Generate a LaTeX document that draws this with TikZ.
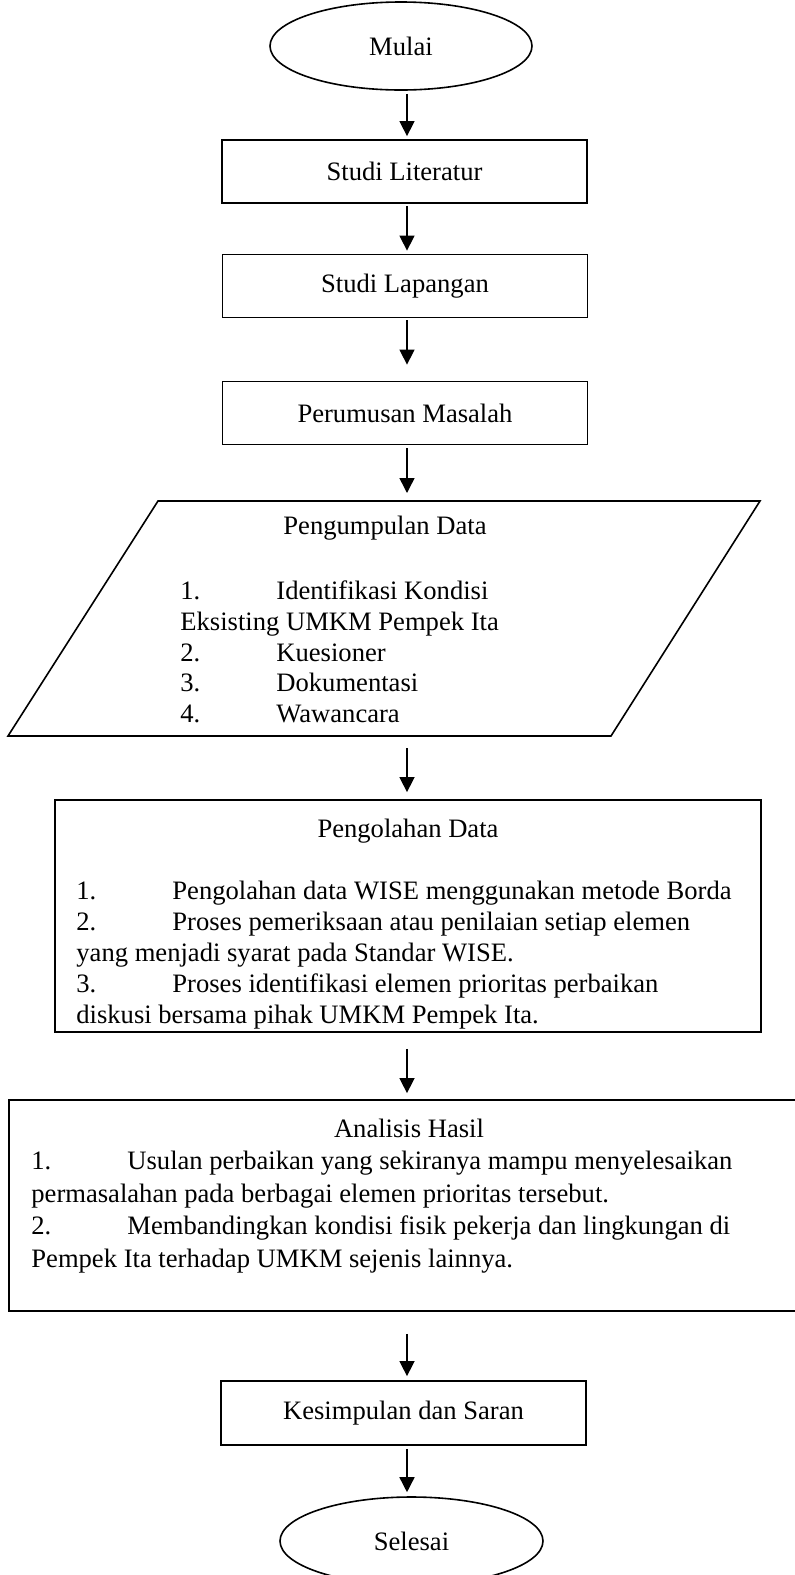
\documentclass[tikz,border=0pt]{standalone}
\usepackage{fontspec}
\setmainfont{Liberation Serif}
\usetikzlibrary{shapes.geometric,arrows.meta}
\newcommand{\flownum}[1]{\makebox[48pt][l]{#1}}
\begin{document}
\begin{tikzpicture}[x=0.5pt,y=-0.5pt,
  every node/.style={font=\fontsize{13.3}{15.5}\selectfont, inner sep=0pt},
  procbox/.style={draw, line width=0.9pt, rectangle, minimum width=182.5pt, minimum height=31.5pt},
  termshape/.style={draw, line width=0.8pt, ellipse, minimum width=131pt, minimum height=44pt},
  flowarrow/.style={line width=0.75pt, -{Triangle[width=7.5pt,length=7.5pt]}},
  txtline/.style={anchor=base west},
  titletext/.style={anchor=base}
]
\useasboundingbox (0,0) rectangle (795,1575);
\coordinate (axis) at (407,0);

% terminals and boxes
\node[termshape] (mulai) at (401,46) {Mulai};
\node[procbox] (lit) at (404.5,171.5) {Studi Literatur};
\node[procbox] (lap) at (405,286) {Studi Lapangan};
\node[procbox] (rum) at (405,413) {Perumusan Masalah};

% parallelogram
\coordinate (pga) at (158,501);
\coordinate (pgb) at (760,501);
\coordinate (pgc) at (611,736);
\coordinate (pgd) at (8,736);
\draw[line width=0.8pt] (pga) -- (pgb) -- (pgc) -- (pgd) -- cycle;
\coordinate (pgtop) at (407,501);
\coordinate (pgbot) at (407,736);
\node[titletext] (pgt) at (385,534) {Pengumpulan Data};
\node[txtline] (pgl1) at (180,599) {\flownum{1.}Identifikasi Kondisi};
\node[txtline] (pgl2) at (180,630) {Eksisting UMKM Pempek Ita};
\node[txtline] (pgl3) at (180,661) {\flownum{2.}Kuesioner};
\node[txtline] (pgl4) at (180,691) {\flownum{3.}Dokumentasi};
\node[txtline] (pgl5) at (180,722) {\flownum{4.}Wawancara};

% Pengolahan Data
\node[draw, line width=0.9pt, rectangle, minimum width=353pt, minimum height=116pt] (olah) at (408,916) {};
\node[titletext] (olt) at (408,837) {Pengolahan Data};
\node[txtline] (oll1) at (76,899) {\flownum{1.}Pengolahan data WISE menggunakan metode Borda};
\node[txtline] (oll2) at (76,930) {\flownum{2.}Proses pemeriksaan atau penilaian setiap elemen};
\node[txtline] (oll3) at (76,961) {yang menjadi syarat pada Standar WISE.};
\node[txtline] (oll4) at (76,992) {\flownum{3.}Proses identifikasi elemen prioritas perbaikan};
\node[txtline] (oll5) at (76,1023) {diskusi bersama pihak UMKM Pempek Ita.};

% Analisis Hasil
\node[draw, line width=0.9pt, rectangle, minimum width=398pt, minimum height=105.5pt] (anl) at (407,1205.5) {};
\node[titletext] (ant) at (409,1137) {Analisis Hasil};
\node[txtline] (anl1) at (31,1169.5) {\flownum{1.}Usulan perbaikan yang sekiranya mampu menyelesaikan};
\node[txtline] (anl2) at (31,1202) {permasalahan pada berbagai elemen prioritas tersebut.};
\node[txtline] (anl3) at (31,1234.5) {\flownum{2.}Membandingkan kondisi fisik pekerja dan lingkungan di};
\node[txtline] (anl4) at (31,1267) {Pempek Ita terhadap UMKM sejenis lainnya.};

\node[procbox, minimum height=32pt] (kes) at (403.5,1413) {Kesimpulan dan Saran};
\node[termshape, minimum width=131.5pt] (sel) at (411.5,1541) {Selesai};

% connectors
\draw[flowarrow, shorten <=1.5pt, shorten >=1.5pt] (mulai.south -| axis) -- (lit.north -| axis);
\draw[flowarrow, shorten <=1pt, shorten >=1.5pt] (lit.south -| axis) -- (lap.north -| axis);
\draw[flowarrow, shorten <=1pt, shorten >=8pt] (lap.south -| axis) -- (rum.north -| axis);
\draw[flowarrow, shorten <=1.5pt, shorten >=4pt] (rum.south -| axis) -- (pgtop);
\draw[flowarrow, shorten <=6pt, shorten >=3.5pt] (pgbot) -- (olah.north -| axis);
\draw[flowarrow, shorten <=8pt, shorten >=3pt] (olah.south -| axis) -- (anl.north -| axis);
\draw[flowarrow, shorten <=11pt, shorten >=2pt] (anl.south -| axis) -- (kes.north -| axis);
\draw[flowarrow, shorten <=1.5pt, shorten >=2pt] (kes.south -| axis) -- (sel.north -| axis);
\end{tikzpicture}
\end{document}
